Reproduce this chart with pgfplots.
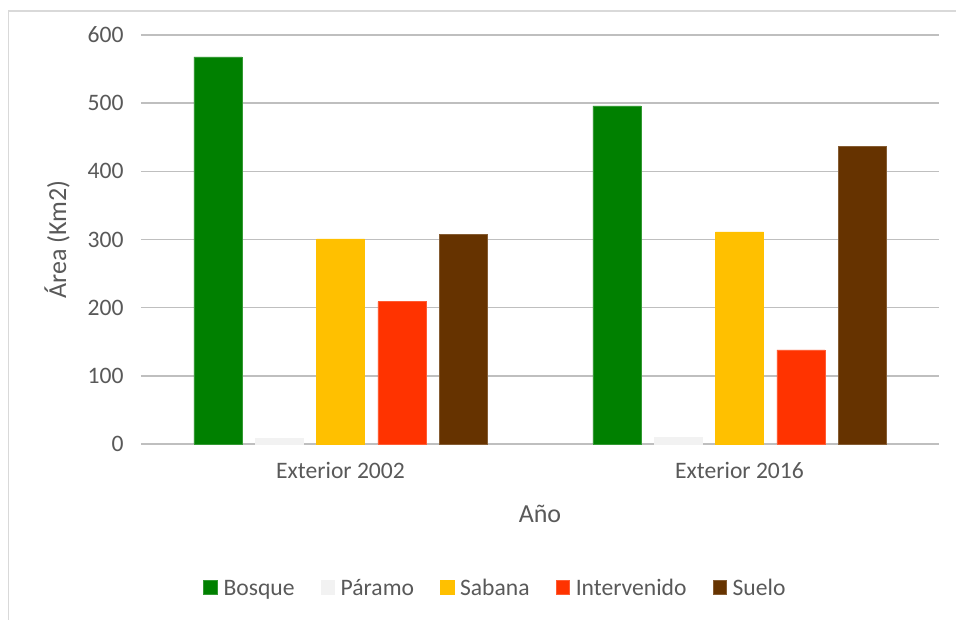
\documentclass[border=0pt]{standalone}
\usepackage{pgfplots}
\pgfplotsset{compat=1.18}
\usepackage{fontspec}
\setmainfont{Carlito}
\definecolor{txt}{HTML}{595959}
\definecolor{grid}{HTML}{D9D9D9}
\definecolor{cBosque}{HTML}{008000}
\definecolor{cParamo}{HTML}{F2F2F2}
\definecolor{cSabana}{HTML}{FFC000}
\definecolor{cInter}{HTML}{FF3300}
\definecolor{cSuelo}{HTML}{663300}
\begin{document}
\begin{tikzpicture}
\useasboundingbox (-141pt,-176pt) rectangle (815pt,444pt);
\draw[grid, line width=1.5pt] (-132.5pt,-176pt) -- (-132.5pt,433pt) -- (815pt,433pt);
\begin{axis}[
  scale only axis,
  width=798pt, height=409pt,
  ymin=0, ymax=600,
  xmin=-0.5, xmax=1.5,
  xtick={0,1},
  xticklabels={Exterior 2002, Exterior 2016},
  ytick={0,100,...,600},
  ybar=13.3pt,
  bar width=48pt,
  axis line style={draw=none},
  major tick length=0pt,
  xtick style={draw=none},
  ytick style={draw=none},
  xmajorgrids=false,
  ymajorgrids=true,
  grid style={grid, line width=1.5pt},
  /pgf/number format/assume math mode=true,
  tick label style={font=\fontsize{23.6}{28}\selectfont, text=txt},
  xticklabel style={yshift=-15pt},
  yticklabel style={xshift=-14pt},
  xlabel={Año},
  ylabel={Área (Km2)},
  label style={font=\fontsize{26}{30}\selectfont, text=txt},
  xlabel style={at={(axis description cs:0.5,-0.171)}, anchor=center},
  ylabel style={at={(axis description cs:-0.1053,0.5)}, anchor=center},
  legend columns=5,
  legend style={draw=none, fill=none, at={(axis description cs:0.4442,-0.357)}, anchor=center,
    font=\fontsize{23.6}{28}\selectfont, text=txt,
    nodes={text depth=0.25em, text height=0.72em},
    /tikz/every odd column/.append style={column sep=4pt},
    /tikz/every even column/.append style={column sep=24pt}},
  legend image code/.code={\fill[#1] (0pt,-1.7pt) rectangle (13.7pt,12.3pt);},
  clip=false,
]
\addplot[fill=cBosque, draw=cBosque!80!white] coordinates {(0,568) (1,496)};
\addplot[fill=cParamo, draw=cParamo] coordinates {(0,8) (1,10)};
\addplot[fill=cSabana, draw=cSabana] coordinates {(0,301) (1,311)};
\addplot[fill=cInter, draw=cInter!80!white] coordinates {(0,209) (1,138)};
\addplot[fill=cSuelo, draw=cSuelo!80!white] coordinates {(0,308) (1,437)};
\legend{Bosque, Páramo, Sabana, Intervenido, Suelo}
\end{axis}
\end{tikzpicture}
\end{document}
